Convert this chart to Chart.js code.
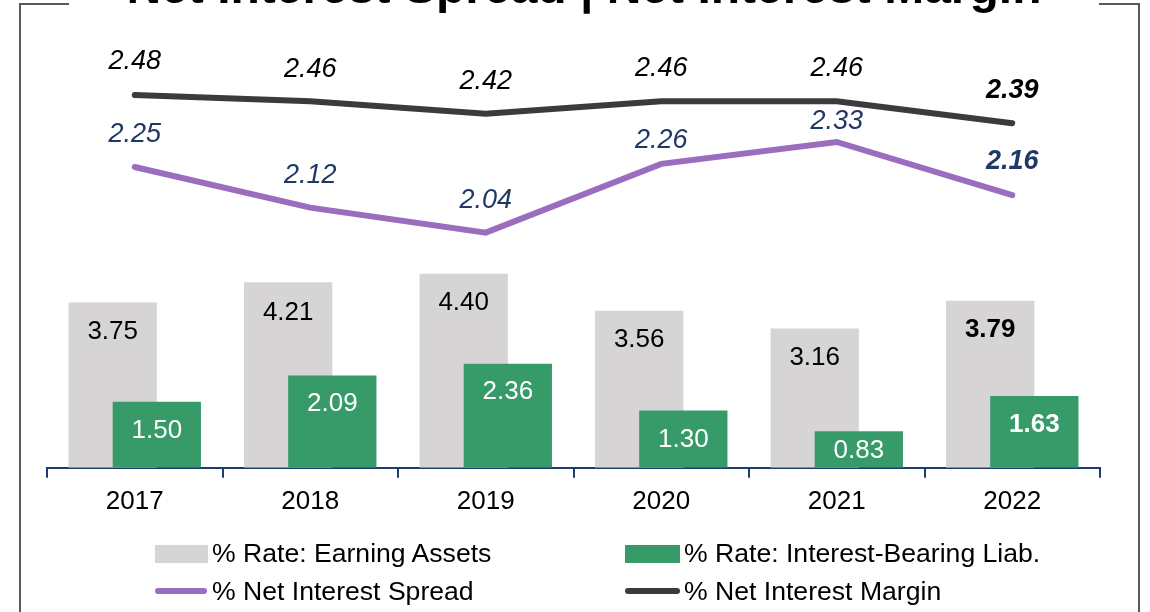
<!DOCTYPE html>
<html>
<head>
<meta charset="utf-8">
<script src="https://cdn.jsdelivr.net/npm/chart.js@4.4.1/dist/chart.umd.min.js"></script>
<style>
  body { margin: 0; background: #fff; }
  #wrap { position: relative; width: 1150px; height: 612px; font-family: "Liberation Sans", Arial, sans-serif; }
  #chart { position: absolute; left: 0; top: 0; }
  .txt { position: absolute; font-size: 26.6px; line-height: 30px; color: #000; white-space: nowrap; }
  .mark { position: absolute; }
</style>
</head>
<body>
<div id="wrap">
  <canvas id="chart" width="1150" height="612"></canvas>
  <div class="mark" style="left:155px;top:545px;width:53px;height:18px;background:#d6d4d5"></div>
  <div class="txt" style="left:212px;top:538px">% Rate: Earning Assets</div>
  <div class="mark" style="left:625px;top:545px;width:55px;height:18px;background:#369b69"></div>
  <div class="txt" style="left:684px;top:538px">% Rate: Interest-Bearing Liab.</div>
  <div class="mark" style="left:155px;top:588px;width:52px;height:6px;border-radius:3px;background:#9b6dbf"></div>
  <div class="txt" style="left:212px;top:576px">% Net Interest Spread</div>
  <div class="mark" style="left:625px;top:588px;width:55px;height:6px;border-radius:3px;background:#3b3b3b"></div>
  <div class="txt" style="left:684px;top:576px">% Net Interest Margin</div>
</div>
<script>
// data
const years = ['2017', '2018', '2019', '2020', '2021', '2022'];
const earningAssets = [3.75, 4.21, 4.40, 3.56, 3.16, 3.79];
const interestLiab = [1.50, 2.09, 2.36, 1.30, 0.83, 1.63];
const netSpread = [2.25, 2.12, 2.04, 2.26, 2.33, 2.16];
const netMargin = [2.48, 2.46, 2.42, 2.46, 2.46, 2.39];
const title = 'Net Interest Spread | Net Interest Margin';

const FONT = '"Liberation Sans", Arial, sans-serif';
const navy = '#1f3a6e';

// labels on bars and lines, last year in bold
// labelOffsets: distance of the label centre from the point / bar top (px)
const valueLabels = {
    id: 'valueLabels',
    afterDatasetsDraw(chart) {
        const ctx = chart.ctx;
        chart.data.datasets.forEach((ds, i) => {
            const meta = chart.getDatasetMeta(i);
            meta.data.forEach((el, j) => {
                const last = j === ds.data.length - 1;
                ctx.save();
                ctx.font = (ds.labelItalic ? 'italic ' : '') + (last ? 'bold ' : '') + ds.labelSize + 'px ' + FONT;
                ctx.fillStyle = ds.labelColor;
                ctx.textAlign = 'center';
                ctx.textBaseline = 'middle';
                const off = ds.labelOffsets[j];
                const y = ds.type === 'line' ? el.y - off : el.y + off;
                ctx.fillText(ds.data[j].toFixed(2), el.x, y);
                ctx.restore();
            });
        });
    }
};

// frame round the chart and the (cut off) title
const frame = {
    id: 'frame',
    afterDraw(chart) {
        const ctx = chart.ctx;
        ctx.save();
        ctx.strokeStyle = '#595959';
        ctx.lineWidth = 2;
        ctx.beginPath();
        ctx.moveTo(69, 4); ctx.lineTo(20, 4); ctx.lineTo(20, 612);
        ctx.moveTo(1099, 4); ctx.lineTo(1139, 4); ctx.lineTo(1139, 612);
        ctx.stroke();
        ctx.font = 'bold 48px ' + FONT;
        ctx.fillStyle = '#000';
        ctx.textAlign = 'center';
        ctx.textBaseline = 'alphabetic';
        ctx.fillText(title, 584, 3);
        ctx.restore();
    }
};

new Chart(document.getElementById('chart'), {
    data: {
        labels: years,
        datasets: [
            {
                type: 'bar',
                label: '% Rate: Earning Assets',
                data: earningAssets,
                backgroundColor: '#d6d4d5',
                yAxisID: 'y',
                order: 2,
                // negative percentages put the first group slot on the right,
                // so the green bar (drawn last) sits right and overlaps the grey one
                categoryPercentage: -0.503,
                barPercentage: -2,
                labelColor: '#000', labelSize: 26, labelItalic: false,
                labelOffsets: [29, 31, 29, 29, 29, 29]
            },
            {
                type: 'bar',
                label: '% Rate: Interest-Bearing Liab.',
                data: interestLiab,
                backgroundColor: '#369b69',
                yAxisID: 'y',
                order: 1,
                categoryPercentage: -0.503,
                barPercentage: -2,
                labelColor: '#fff', labelSize: 26, labelItalic: false,
                labelOffsets: [29, 28, 28, 29, 20, 29]
            },
            {
                type: 'line',
                label: '% Net Interest Spread',
                data: netSpread,
                borderColor: '#9b6dbf',
                borderWidth: 6,
                borderCapStyle: 'round',
                pointRadius: 0,
                tension: 0,
                fill: false,
                yAxisID: 'y1',
                order: 0,
                labelColor: '#1f3864', labelSize: 27, labelItalic: true,
                labelOffsets: [32, 32, 32, 23, 20, 34]
            },
            {
                type: 'line',
                label: '% Net Interest Margin',
                data: netMargin,
                borderColor: '#3b3b3b',
                borderWidth: 6,
                borderCapStyle: 'round',
                pointRadius: 0,
                tension: 0,
                fill: false,
                yAxisID: 'y1',
                order: 0,
                labelColor: '#000', labelSize: 27, labelItalic: true,
                labelOffsets: [34, 32, 32, 33, 33, 33]
            }
        ]
    },
    options: {
        responsive: false,
        animation: false,
        layout: { padding: { top: 40, left: 47, right: 50, bottom: 87 } },
        plugins: {
            legend: { display: false },
            title: { display: false },
            tooltip: { enabled: false }
        },
        scales: {
            x: {
                offset: true,
                grid: { display: true, offset: true, drawOnChartArea: false, drawTicks: true, tickLength: 10, color: navy, lineWidth: 2 },
                border: { display: true, color: navy, width: 2 },
                ticks: { color: '#000', padding: 8, font: { size: 26, family: FONT } }
            },
            y: { display: false, min: 0, max: 9.7 },
            y1: { display: false, min: 1.288, max: 2.656 }
        }
    },
    plugins: [valueLabels, frame]
});
</script>
</body>
</html>
